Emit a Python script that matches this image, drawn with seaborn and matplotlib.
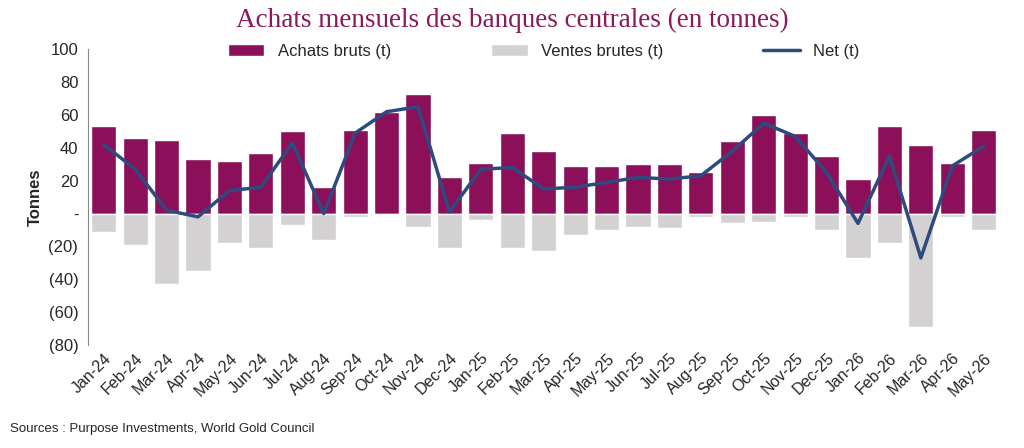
import numpy as np
import pandas as pd
import seaborn as sns
import matplotlib.pyplot as plt

months = ["Jan-24", "Feb-24", "Mar-24", "Apr-24", "May-24", "Jun-24", "Jul-24", "Aug-24",
          "Sep-24", "Oct-24", "Nov-24", "Dec-24", "Jan-25", "Feb-25", "Mar-25", "Apr-25",
          "May-25", "Jun-25", "Jul-25", "Aug-25", "Sep-25", "Oct-25", "Nov-25", "Dec-25",
          "Jan-26", "Feb-26", "Mar-26", "Apr-26", "May-26"]
achats = [53, 46, 45, 33, 32, 37, 50, 16, 51, 62, 73, 22, 31, 49, 38, 29,
          29, 30, 30, 25, 44, 60, 49, 35, 21, 53, 42, 31, 51]
ventes = [-11, -19, -43, -35, -18, -21, -7, -16, -2, 0, -8, -21, -4, -21, -23, -13,
          -10, -8, -9, -2, -6, -5, -2, -10, -27, -18, -69, -2, -10]
net = [42, 27, 2, -2, 14, 16, 43, 0, 49, 62, 65, 1, 27, 28, 15, 16,
       19, 22, 21, 23, 38, 55, 47, 25, -6, 35, -27, 29, 41]

sns.set_style("white")
plt.rcParams['font.family'] = ['Liberation Sans', 'DejaVu Sans']

df = pd.DataFrame({"mois": months, "achats": achats, "ventes": ventes, "net": net})

fig = plt.figure(figsize=(10.24, 4.48), dpi=100)
ax = fig.add_axes([0.086, 0.23, 0.89, 0.66])

sns.barplot(data=df, x="mois", y="achats", color="#8B1059", width=0.8, ax=ax,
            label="Achats bruts (t)", saturation=1)
sns.barplot(data=df, x="mois", y="ventes", color="#D3D1D1", width=0.8, ax=ax,
            label="Ventes brutes (t)", saturation=1)
ax.plot(np.arange(len(months)), net, color="#2E4A7E", lw=2.5, label="Net (t)")

ax.set_ylim(-80, 100)
ax.set_yticks(range(-80, 101, 20))
ax.set_yticklabels([f"({-v})" if v < 0 else ("-" if v == 0 else str(v)) for v in range(-80, 101, 20)],
                   fontsize=12)
ax.set_xlim(-0.5, len(months) - 0.5)
ax.set_xticks(np.arange(len(months)))
ax.set_xticklabels(months, rotation=45, ha="right", rotation_mode="anchor", fontsize=11.5)
ax.tick_params(axis="x", length=0, pad=4)
ax.set_xlabel("")
ax.set_ylabel("Tonnes", fontsize=12, fontweight="bold")
for s in ["top", "right", "bottom"]:
    ax.spines[s].set_visible(False)
ax.spines["left"].set_color("#888888")

handles, labels = ax.get_legend_handles_labels()
order = [labels.index(l) for l in ["Achats bruts (t)", "Ventes brutes (t)", "Net (t)"]]
ax.legend([handles[i] for i in order], [labels[i] for i in order],
          loc="upper center", bbox_to_anchor=(0.5, 1.07), ncol=3, frameon=False,
          fontsize=12, columnspacing=6, handlelength=2.2)

fig.text(0.5, 0.94, "Achats mensuels des banques centrales (en tonnes)", ha="center",
         fontsize=19.5, color="#8B1A5A", family="Liberation Serif")
fig.text(0.01, 0.035, "Sources : Purpose Investments, World Gold Council", fontsize=9.5)

fig.savefig("out.png", dpi=100)
